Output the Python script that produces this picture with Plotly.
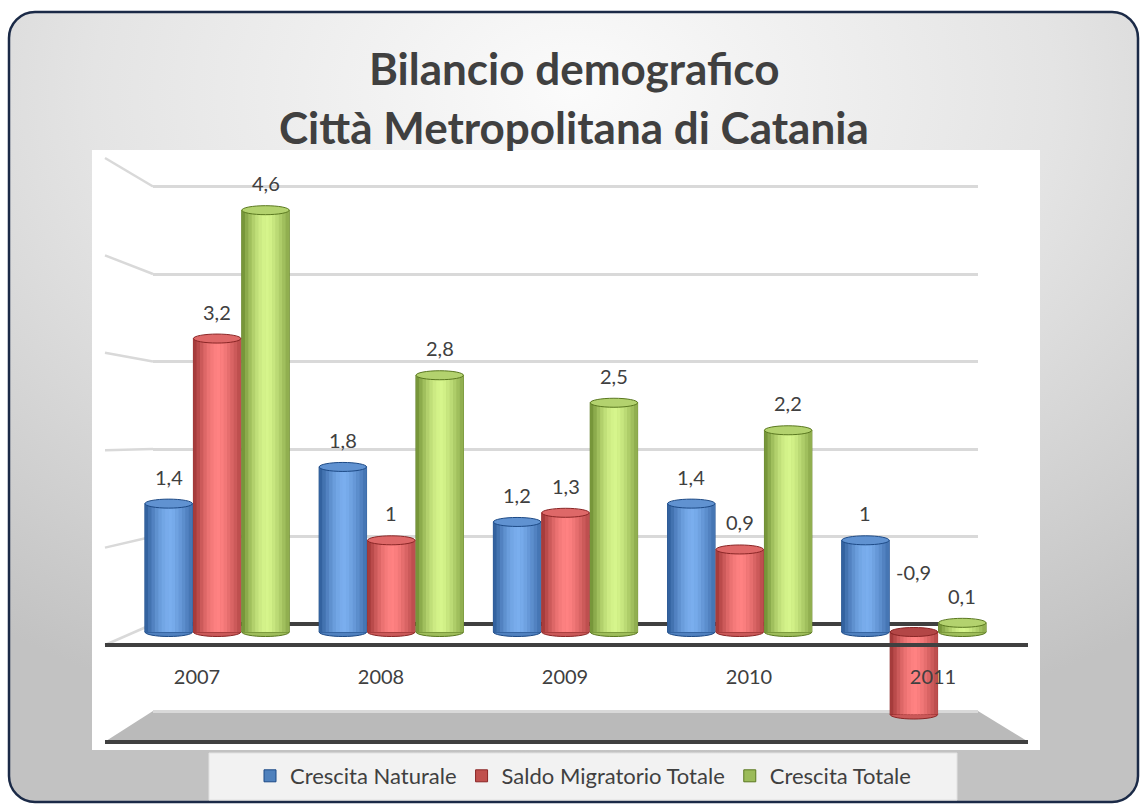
import math
import base64
import plotly.graph_objects as go

# ---------------- data ----------------
years = ["2007", "2008", "2009", "2010", "2011"]
crescita_naturale = [1.4, 1.8, 1.2, 1.4, 1.0]
saldo_migratorio_totale = [3.2, 1.0, 1.3, 0.9, -0.9]
crescita_totale = [4.6, 2.8, 2.5, 2.2, 0.1]
series_names = ["Crescita Naturale", "Saldo Migratorio Totale", "Crescita Totale"]
wall_values = [0, 1, 2, 3, 4, 5]
title_lines = ["Bilancio demografico", "Città Metropolitana di Catania"]

# ---------------- geometry helpers ----------------
W, H = 1141, 805


def px(x):
    return x / W


def py(y):
    return 1 - y / H


FONT = "Lato, 'Open Sans', sans-serif"
TXT = "#404040"

# bar (middle) plane: value 0 at y=632 px, 91.7 px per unit
B_ZERO, B_UNIT = 632, 91.7
B_RANGE = [-1.5, 5.5]
# back wall: value 0 at 624 px, 87.5 px per unit
K_ZERO, K_UNIT = 624, 87.5
K_RANGE = [-1.05, 5.05]
# front plane: value 0 at 645 px, 97.4 px per unit
F_ZERO, F_UNIT = 645, 97.4

styles = [
    dict(legend="#4f81bd", dark="#1d4a86", hi="#7aaeee"),
    dict(legend="#c0504d", dark="#8a2626", hi="#ff8282"),
    dict(legend="#9bbb59", dark="#5a7820", hi="#d6f58c"),
]
values = [crescita_naturale, saldo_migratorio_totale, crescita_totale]

BW = 0.272          # bar width (category units)
OFFS = [-0.278, 0.0, 0.278]
NSTRIP = 14


def hex2rgb(h):
    h = h.lstrip("#")
    return [int(h[i:i + 2], 16) for i in (0, 2, 4)]


def mix(c1, c2, t):
    a, b = hex2rgb(c1), hex2rgb(c2)
    return "#%02x%02x%02x" % tuple(int(round(a[i] + (b[i] - a[i]) * t)) for i in range(3))


def shade(t):
    if t < 0.55:
        return 0.15 + 0.85 * math.sin(math.pi / 2 * t / 0.55)
    return 1 - 0.62 * ((t - 0.55) / 0.45) ** 1.3


fig = go.Figure()
idx = list(range(len(years)))

# legend / underlay bars
for s, name in enumerate(series_names):
    st = styles[s]
    fig.add_trace(go.Bar(
        x=[i + OFFS[s] for i in idx], y=values[s], width=BW,
        name=name, marker=dict(color=st["legend"], line=dict(color=st["dark"], width=1)),
        xaxis="x2", yaxis="y2", hoverinfo="skip", showlegend=True,
    ))

# cylinder shading strips
for s in range(3):
    st = styles[s]
    for k in range(NSTRIP):
        t = (k + 0.5) / NSTRIP
        off = OFFS[s] - BW / 2 + t * BW
        fig.add_trace(go.Bar(
            x=[i + off for i in idx], y=values[s], width=BW / NSTRIP * 1.15,
            marker=dict(color=mix(st["dark"], st["hi"], shade(t)), line=dict(width=0)),
            xaxis="x2", yaxis="y2", hoverinfo="skip", showlegend=False,
        ))

# invisible traces so the back wall and the front category axis are drawn
fig.add_trace(go.Scatter(x=[0.5], y=[0], mode="markers", marker=dict(opacity=0),
                         xaxis="x", yaxis="y", hoverinfo="skip", showlegend=False))
fig.add_trace(go.Scatter(x=idx, y=[0.5] * len(idx), mode="markers",
                         marker=dict(opacity=0), xaxis="x3", yaxis="y3",
                         hoverinfo="skip", showlegend=False))

shapes = []
# white chart area
shapes.append(dict(type="rect", xref="paper", yref="paper", x0=px(92), x1=px(1040),
                   y0=py(750), y1=py(150), fillcolor="white", line=dict(width=0), layer="below"))
# legend box
shapes.append(dict(type="rect", xref="paper", yref="paper", x0=px(209), x1=px(957),
                   y0=py(800), y1=py(753), fillcolor="#f2f2f2", line=dict(color="#e2e2e2", width=1),
                   layer="below"))
# floor
path = "M {},{} L {},{} L {},{} L {},{} Z".format(px(153), py(711), px(978), py(711),
                                                  px(1027), py(741), px(106), py(741))
shapes.append(dict(type="path", xref="paper", yref="paper", path=path,
                   fillcolor="#bababa", line=dict(width=0), layer="below"))
# left wall diagonals
for v in wall_values:
    shapes.append(dict(type="line", xref="paper", yref="paper",
                       x0=px(105), y0=py(F_ZERO - v * F_UNIT), x1=px(153), y1=py(K_ZERO - v * K_UNIT),
                       line=dict(color="#d9d9d9", width=2.5), layer="below"))

# cylinder caps
e = 4.5 / B_UNIT
for s in range(3):
    st = styles[s]
    for i in idx:
        v = values[s][i]
        x0, x1 = i + OFFS[s] - BW / 2, i + OFFS[s] + BW / 2
        top, bot = max(v, 0), min(v, 0)
        shapes.append(dict(type="circle", xref="x2", yref="y2", x0=x0, x1=x1,
                           y0=bot - e, y1=bot + e, fillcolor=mix(st["dark"], st["hi"], 0.55),
                           line=dict(color=st["dark"], width=1), layer="below"))
        topfill = mix(st["dark"], st["hi"], 0.72) if v >= 0 else mix(st["dark"], st["hi"], 0.35)
        shapes.append(dict(type="circle", xref="x2", yref="y2", x0=x0, x1=x1,
                           y0=top - e, y1=top + e, fillcolor=topfill,
                           line=dict(color=st["dark"], width=1), layer="above"))

# front zero line and floor front edge
shapes.append(dict(type="line", xref="paper", yref="paper", x0=px(105), x1=px(1028),
                   y0=py(F_ZERO), y1=py(F_ZERO), line=dict(color="#404040", width=4), layer="above"))
shapes.append(dict(type="line", xref="paper", yref="paper", x0=px(105), x1=px(1028),
                   y0=py(742), y1=py(742), line=dict(color="#404040", width=4), layer="above"))

annotations = []
# data labels
for s in range(3):
    for i in idx:
        v = values[s][i]
        annotations.append(dict(
            x=i + OFFS[s], y=max(v, 0), xref="x2", yref="y2",
            text=f"{v:g}".replace(".", ","), showarrow=False,
            yanchor="bottom", yshift=13 if v >= 0 else 46,
            font=dict(family=FONT, size=20, color=TXT)))
# title
annotations.append(dict(x=px(574), y=py(68), xref="paper", yref="paper", text="<b>%s</b>" % title_lines[0],
                        showarrow=False, yanchor="middle", font=dict(family=FONT, size=44, color=TXT)))
annotations.append(dict(x=px(574), y=py(127), xref="paper", yref="paper", text="<b>%s</b>" % title_lines[1],
                        showarrow=False, yanchor="middle", font=dict(family=FONT, size=44, color=TXT)))

# background (gradient panel with rounded border)
svg = """<svg xmlns='http://www.w3.org/2000/svg' width='1141' height='805' viewBox='0 0 1141 805'>
<defs><radialGradient id='g' cx='0.5' cy='0.1' r='0.85' fx='0.5' fy='0.1'>
<stop offset='0' stop-color='#fbfbfb'/><stop offset='0.5' stop-color='#e4e4e4'/>
<stop offset='1' stop-color='#c2c2c2'/></radialGradient></defs>
<rect width='1141' height='805' fill='white'/>
<rect x='9' y='12' width='1129' height='790' rx='26' ry='26' fill='url(#g)' stroke='#1b2a47' stroke-width='2.5'/>
</svg>"""
src = "data:image/svg+xml;base64," + base64.b64encode(svg.encode()).decode()

fig.update_layout(
    width=W, height=H, autosize=False,
    margin=dict(l=0, r=0, t=0, b=0),
    paper_bgcolor="white", plot_bgcolor="rgba(0,0,0,0)",
    barmode="overlay",
    showlegend=True,
    legend=dict(orientation="h", x=px(583), xanchor="center", y=py(776), yanchor="middle",
                bgcolor="rgba(0,0,0,0)", font=dict(family=FONT, size=22, color=TXT),
                traceorder="normal", itemclick=False, itemdoubleclick=False),
    images=[dict(source=src, xref="paper", yref="paper", x=0, y=1, sizex=1, sizey=1,
                 sizing="stretch", layer="below", xanchor="left", yanchor="top")],
    # back wall
    xaxis=dict(domain=[px(153), px(978)], range=[0, 1], visible=True, showgrid=False,
               zeroline=False, showticklabels=False, showline=False, ticks="", anchor="y"),
    yaxis=dict(domain=[py(K_ZERO - K_RANGE[0] * K_UNIT), py(K_ZERO - K_RANGE[1] * K_UNIT)],
               range=K_RANGE, tick0=0, dtick=1, showgrid=True, gridcolor="#d9d9d9", gridwidth=3,
               zeroline=True, zerolinecolor="#404040", zerolinewidth=4,
               showticklabels=False, ticks="", showline=False, anchor="x"),
    # bars plane
    xaxis2=dict(domain=[px(130), px(1001)], range=[-0.5, 4.5], visible=False, anchor="y2"),
    yaxis2=dict(domain=[py(B_ZERO - B_RANGE[0] * B_UNIT), py(B_ZERO - B_RANGE[1] * B_UNIT)],
                range=B_RANGE, visible=False, anchor="x2"),
    # front plane (category labels)
    xaxis3=dict(domain=[px(105), px(1025)], range=[-0.5, 4.5], anchor="y3",
                tickvals=idx, ticktext=years, ticks="outside", ticklen=14,
                tickcolor="rgba(0,0,0,0)", showgrid=False, zeroline=False, showline=False,
                tickfont=dict(family=FONT, size=20, color=TXT)),
    yaxis3=dict(domain=[py(F_ZERO), py(600)], range=[0, 1], visible=False, anchor="x3"),
    shapes=shapes,
    annotations=annotations,
    hovermode=False,
)

fig.write_html("out.html", include_plotlyjs=True, config={"displayModeBar": False},
               post_script="document.body.style.margin='0';")
